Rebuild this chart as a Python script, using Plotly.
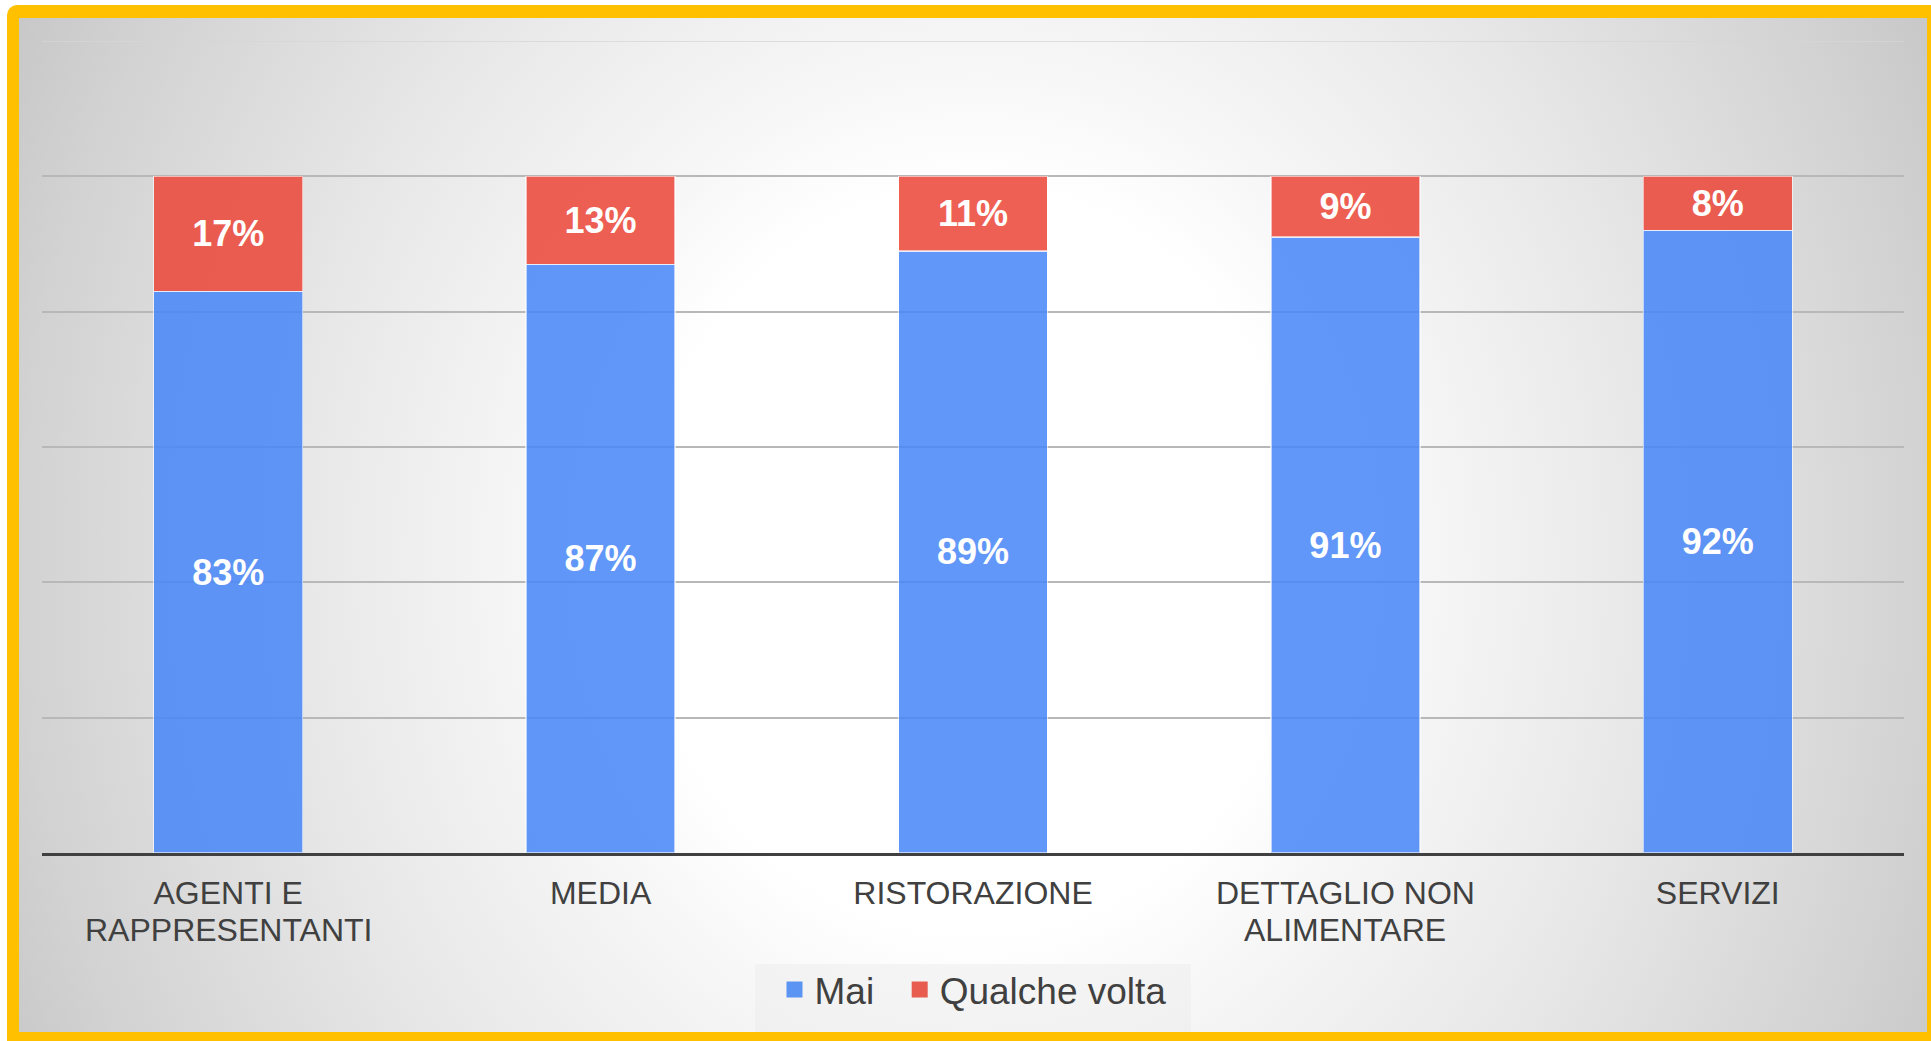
import base64

import plotly.graph_objs as go

# Data
CATEGORIES = [
    "AGENTI E<br>RAPPRESENTANTI",
    "MEDIA",
    "RISTORAZIONE",
    "DETTAGLIO NON<br>ALIMENTARE",
    "SERVIZI",
]
MAI = [83, 87, 89, 91, 92]
QUALCHE_VOLTA = [17, 13, 11, 9, 8]

BLUE = "rgba(71,134,247,0.86)"
RED = "rgba(235,70,56,0.86)"
BLUE_KEY = "#5B94F2"
RED_KEY = "#E85B4F"
TEXT_DARK = "#404040"
FONT = "Liberation Sans, Arial, sans-serif"

W, H = 1931, 1041
# plot area in pixels
L, R, T, B = 42, 27, 41, 188
PW, PH = W - L - R, H - T - B


def px2x(px):
    return (px - L) / PW


def py2y(py):
    return (H - B - py) / PH


# slide-like background: white page, yellow frame, radial grey gradient
svg = f"""<svg xmlns="http://www.w3.org/2000/svg" width="{W}" height="{H}" viewBox="0 0 {W} {H}">
<defs>
<radialGradient id="g" gradientUnits="userSpaceOnUse" cx="975" cy="560" r="1100"
 gradientTransform="translate(975 560) scale(1 1.13) translate(-975 -560)">
<stop offset="0" stop-color="#ffffff"/>
<stop offset="0.3" stop-color="#ffffff"/>
<stop offset="0.41" stop-color="#f6f6f6"/>
<stop offset="0.61" stop-color="#e8e8e8"/>
<stop offset="0.87" stop-color="#d2d2d2"/>
<stop offset="1" stop-color="#c5c5c5"/>
</radialGradient>
</defs>
<rect x="0" y="0" width="{W}" height="{H}" fill="#ffffff"/>
<rect x="7" y="5" width="{W + 20}" height="{H + 20}" rx="10" fill="#FFC000"/>
<rect x="19" y="18" width="1908" height="1014" fill="url(#g)"/>
</svg>"""
bg_src = "data:image/svg+xml;base64," + base64.b64encode(svg.encode()).decode()

fig = go.Figure()

for vals, name, color in [(MAI, "Mai", BLUE), (QUALCHE_VOLTA, "Qualche volta", RED)]:
    fig.add_trace(
        go.Bar(
            x=CATEGORIES,
            y=vals,
            name=name,
            marker=dict(color=color, line=dict(color="rgba(255,255,255,0.6)", width=1.5)),
            text=[f"{v}%" for v in vals],
            textposition="inside",
            insidetextanchor="middle",
            textfont=dict(family=FONT, size=36, color="white", weight="bold"),
            showlegend=False,
            hoverinfo="skip",
        )
    )

# legend entries with bigger square swatches
for name, color in [("Mai\u00a0\u00a0", BLUE_KEY), ("Qualche volta", RED_KEY)]:
    fig.add_trace(
        go.Scatter(
            x=[None],
            y=[None],
            mode="markers",
            name=name,
            marker=dict(symbol="square", size=16, color=color),
        )
    )

# category labels: first line as tick label, second line as annotation
# (tighter line spacing than plotly's default multi-line text)
first_lines = [c.split("<br>")[0] for c in CATEGORIES]
label_notes = []
for c in CATEGORIES:
    parts = c.split("<br>")
    if len(parts) > 1:
        label_notes.append(
            dict(
                x=c,
                xref="x",
                y=py2y(930),
                yref="paper",
                text=parts[1],
                showarrow=False,
                xanchor="center",
                yanchor="middle",
                font=dict(family=FONT, size=32, color=TEXT_DARK),
            )
        )

fig.update_layout(
    width=W,
    height=H,
    barmode="stack",
    bargap=0.6,
    paper_bgcolor="white",
    plot_bgcolor="rgba(0,0,0,0)",
    font=dict(family=FONT, size=32, color=TEXT_DARK),
    margin=dict(l=L, r=R, t=T, b=B, pad=0),
    showlegend=True,
    legend=dict(
        orientation="h",
        x=0.5,
        xanchor="center",
        y=py2y(990),
        yanchor="middle",
        bgcolor="rgba(0,0,0,0)",
        font=dict(family=FONT, size=37, color=TEXT_DARK),
        traceorder="normal",
    ),
    xaxis=dict(
        showgrid=False,
        showline=True,
        linecolor=TEXT_DARK,
        linewidth=3,
        ticks="",
        tickvals=CATEGORIES,
        ticktext=first_lines,
        ticklabelstandoff=10,
        tickfont=dict(family=FONT, size=32, color=TEXT_DARK),
        fixedrange=True,
    ),
    yaxis=dict(
        range=[0, 120],
        tickvals=[20, 40, 60, 80, 100],
        showticklabels=False,
        showgrid=True,
        gridcolor="#b8b8b8",
        gridwidth=2,
        zeroline=False,
        fixedrange=True,
    ),
    annotations=label_notes,
    images=[
        dict(
            source=bg_src,
            xref="paper",
            yref="paper",
            x=px2x(0),
            y=py2y(0),
            sizex=W / PW,
            sizey=H / PH,
            sizing="stretch",
            xanchor="left",
            yanchor="top",
            layer="below",
        )
    ],
    shapes=[
        # faint top gridline
        dict(
            type="line",
            xref="paper",
            yref="y",
            x0=0,
            x1=1,
            y0=120,
            y1=120,
            line=dict(color="#d6d6d6", width=1.5),
            layer="below",
        ),
        # legend box
        dict(
            type="rect",
            xref="paper",
            yref="paper",
            x0=px2x(755),
            x1=px2x(1191),
            y0=py2y(1032),
            y1=py2y(964),
            line=dict(width=0),
            fillcolor="rgba(236,236,236,0.45)",
            layer="below",
        ),
    ],
)

fig.write_html(
    "out.html",
    config={"displayModeBar": False},
    post_script="document.body.style.margin='0';document.body.style.overflow='hidden';",
)
